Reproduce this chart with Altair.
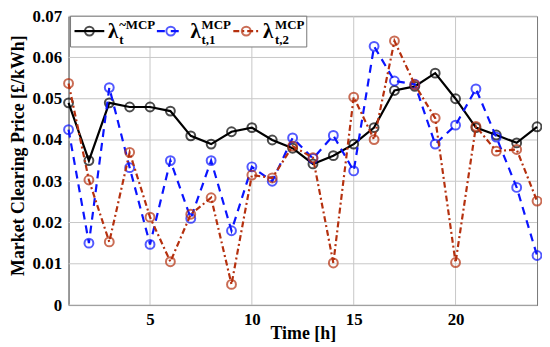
import altair as alt
import pandas as pd

hours = list(range(1, 25))
mcp = [0.049, 0.035, 0.049, 0.048, 0.048, 0.047, 0.041, 0.039, 0.042, 0.043, 0.040, 0.038,
       0.0342, 0.0362, 0.039, 0.043, 0.052, 0.053, 0.0562, 0.050, 0.043, 0.0412, 0.0393, 0.0432]
mcp1 = [0.0425, 0.015, 0.0527, 0.0333, 0.0147, 0.035, 0.021, 0.035, 0.018, 0.0335, 0.030, 0.0405,
        0.0355, 0.0411, 0.0325, 0.0627, 0.0543, 0.0535, 0.039, 0.0436, 0.0524, 0.0407, 0.0285, 0.012]
mcp2 = [0.0537, 0.0303, 0.0153, 0.037, 0.0213, 0.0105, 0.022, 0.026, 0.005, 0.0315, 0.0308, 0.0385,
        0.0357, 0.0102, 0.0504, 0.0401, 0.064, 0.0534, 0.0453, 0.0103, 0.0433, 0.0373, 0.0377, 0.0252]
x_ticks = [5, 10, 15, 20]
y_ticks = [0, 0.01, 0.02, 0.03, 0.04, 0.05, 0.06, 0.07]

FONT = "Liberation Serif"
BLACK = "#000000"
BLUE = "#0a14ff"
RED = "#b5300e"
GRID = "#c8c8c8"

xs = alt.Scale(domain=[1, 24], nice=False)
ys = alt.Scale(domain=[0, 0.07], nice=False)

gx = alt.Chart(pd.DataFrame({"g": x_ticks})).mark_rule(color=GRID, strokeWidth=1).encode(
    x=alt.X("g:Q", scale=xs, title="Time [h]",
            axis=alt.Axis(values=x_ticks, grid=False, titleY=20, titleBaseline="top")))
gy = alt.Chart(pd.DataFrame({"g": y_ticks})).mark_rule(color=GRID, strokeWidth=1).encode(
    y=alt.Y("g:Q", scale=ys, title="Market Clearing Price [£/kWh]",
            axis=alt.Axis(values=y_ticks, grid=False,
                          labelExpr="datum.value == 0 ? '0' : format(datum.value, '.2f')",
                          titleX=-50, titleY=140, titleBaseline="middle", titleAlign="center")))

def series(vals, color, dash):
    df = pd.DataFrame({"h": hours, "v": vals})
    x = alt.X("h:Q", scale=xs)
    y = alt.Y("v:Q", scale=ys)
    line_kw = dict(color=color, strokeWidth=2.2)
    if dash:
        line_kw["strokeDash"] = dash
    ln = alt.Chart(df).mark_line(**line_kw).encode(x=x, y=y)
    pt = alt.Chart(df).mark_point(shape="circle", filled=False, color=color, size=80,
                                  strokeWidth=2).encode(x=x, y=y)
    return [ln, pt]

layers = [gx, gy]
layers += series(mcp, BLACK, None)
layers += series(mcp1, BLUE, [8, 6])
layers += series(mcp2, RED, [6, 3, 2, 3])

one = pd.DataFrame({"k": [0]})

def legend_item(x0, x1, xc, lamx, supx, sup, sub, color, dash):
    items = []
    kw = dict(color=color, strokeWidth=2.2)
    if dash:
        kw["strokeDash"] = dash
    items.append(alt.Chart(one).mark_rule(**kw).encode(x=alt.value(x0), x2=alt.value(x1), y=alt.value(15)))
    items.append(alt.Chart(one).mark_point(shape="circle", filled=False, color=color, size=80,
                                           strokeWidth=2).encode(x=alt.value(xc), y=alt.value(15)))
    items.append(alt.Chart(one).mark_text(text="λ", font=FONT, fontSize=21, fontWeight="bold",
                                          align="center", baseline="middle", color="black")
                 .encode(x=alt.value(lamx), y=alt.value(16)))
    items.append(alt.Chart(one).mark_text(text=sup, font=FONT, fontSize=13, fontWeight="bold",
                                          align="left", baseline="middle", color="black")
                 .encode(x=alt.value(supx), y=alt.value(9)))
    items.append(alt.Chart(one).mark_text(text=sub, font=FONT, fontSize=13, fontWeight="bold",
                                          align="left", baseline="middle", color="black")
                 .encode(x=alt.value(supx), y=alt.value(24)))
    return items

box = alt.Chart(one).mark_rect(fill="white", stroke="#777777", strokeWidth=1).encode(
    x=alt.value(2), x2=alt.value(240), y=alt.value(0), y2=alt.value(31))
layers.append(box)
layers += legend_item(6, 36, 21, 45, 51, "~MCP", "t", BLACK, None)
layers += legend_item(89, 114, 103, 128, 134, "MCP", "t,1", BLUE, [8, 6])
layers += legend_item(166, 194, 179, 201, 208, "MCP", "t,2", RED, [6, 3, 2, 3])

chart = alt.layer(*layers).properties(
    width=472, height=291,
    autosize=alt.AutoSizeParams(type="none"),
    padding={"left": 61, "top": 7, "right": 5, "bottom": 40},
).configure_view(stroke="#777777", strokeWidth=1).configure_axis(
    labelFont=FONT, labelFontSize=17, labelFontWeight="bold", labelColor="black",
    titleFont=FONT, titleFontSize=18, titleFontWeight="bold", titleColor="black",
    ticks=False, domainColor="#777777",
    labelPadding=7,
)

chart.save("out.html", embed_options={"renderer": "svg", "actions": False})
